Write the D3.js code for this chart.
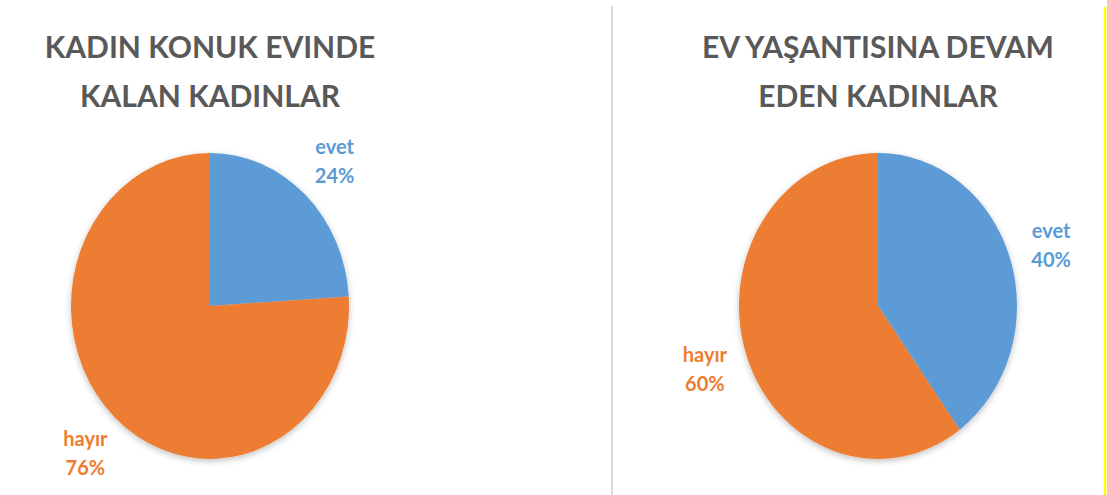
<!DOCTYPE html>
<html>
<head>
<meta charset="utf-8">
<script src="https://cdn.jsdelivr.net/npm/d3@7"></script>
<style>
	body { margin: 0; background: #fff; }
	svg { display: block; }
	text { font-family: Lato, "Open Sans", sans-serif; font-weight: bold; }
</style>
</head>
<body>
<svg id="chart" width="1107" height="495"></svg>
<script>
const categories = ["evet", "hayır"];
const colors = ["#5B9BD5", "#ED7D31"];
const leftTitle = ["KADIN KONUK EVINDE", "KALAN KADINLAR"];
const leftValues = [24, 76];
const rightTitle = ["EV YAŞANTISINA DEVAM", "EDEN KADINLAR"];
const rightValues = [40, 60];

const svg = d3.select("#chart");
const color = d3.scaleOrdinal().domain(categories).range(colors);

// soft shadow under the pies
const filter = svg.append("defs").append("filter")
	.attr("id", "shadow")
	.attr("x", "-20%").attr("y", "-20%")
	.attr("width", "140%").attr("height", "140%");
filter.append("feDropShadow")
	.attr("dx", 0).attr("dy", 2)
	.attr("stdDeviation", 3)
	.attr("flood-color", "#000")
	.attr("flood-opacity", 0.25);

// divider and right edge
svg.append("line")
	.attr("x1", 612).attr("x2", 612)
	.attr("y1", 6).attr("y2", 495)
	.style("stroke", "#d9d9d9")
	.style("stroke-width", 2);
svg.append("line")
	.attr("x1", 1105).attr("x2", 1105)
	.attr("y1", 7).attr("y2", 495)
	.style("stroke", "#ffff00")
	.style("stroke-width", 2.5);

const radius = 139;
const stretch = 1.1;
const labelRadius = 182;

const pie = d3.pie().sort(null);
const arc = d3.arc().innerRadius(0).outerRadius(radius);

function drawPie(cx, cy, title, values) {
	const g = svg.append("g");

	g.selectAll("text.title")
		.data(title)
		.enter()
		.append("text")
		.attr("class", "title")
		.attr("x", cx)
		.attr("y", (d, i) => 58 + i * 49)
		.attr("text-anchor", "middle")
		.style("font-size", "30px")
		.style("fill", "#595959")
		.text(d => d);

	const arcs = pie(values).map((a, i) => Object.assign(a, { key: categories[i] }));

	g.append("g")
		.attr("transform", `translate(${cx},${cy}) scale(1,${stretch})`)
		.attr("filter", "url(#shadow)")
		.selectAll("path")
		.data(arcs)
		.enter()
		.append("path")
		.attr("d", arc)
		.style("fill", d => color(d.key));

	const labels = g.selectAll("text.label")
		.data(arcs)
		.enter()
		.append("text")
		.attr("class", "label")
		.attr("text-anchor", "middle")
		.style("font-size", "20px")
		.style("fill", d => color(d.key))
		.attr("transform", d => {
			const a = (d.startAngle + d.endAngle) / 2;
			const x = cx + Math.sin(a) * labelRadius;
			const y = cy - Math.cos(a) * labelRadius * stretch;
			return `translate(${x},${y})`;
		});

	labels.append("tspan")
		.attr("x", 0).attr("y", -6)
		.text(d => d.key);
	labels.append("tspan")
		.attr("x", 0).attr("y", 23)
		.text(d => d.value + "%");
}

drawPie(210, 306, leftTitle, leftValues);
drawPie(878, 306, rightTitle, rightValues);
</script>
</body>
</html>
